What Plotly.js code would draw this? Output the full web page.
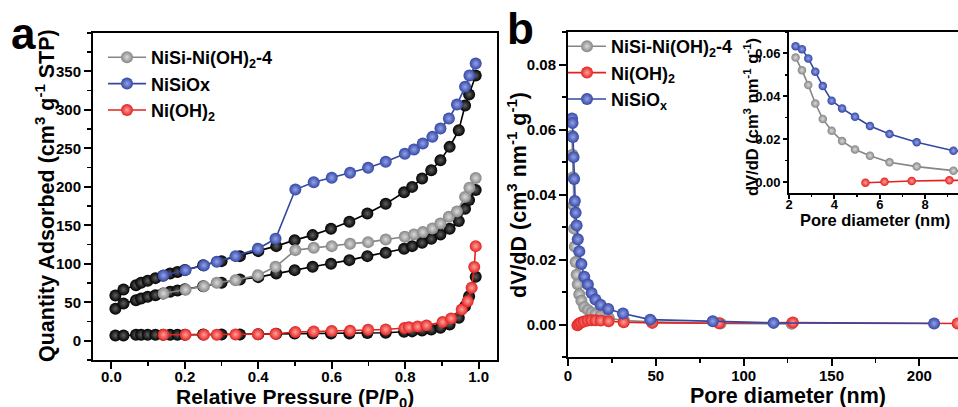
<!DOCTYPE html>
<html>
<head>
<meta charset="utf-8">
<script src="https://cdn.plot.ly/plotly-3.0.1.min.js"></script>
<style>
html,body{margin:0;padding:0;background:#fff;overflow:hidden;}
#chart{width:958px;height:407px;}
</style>
</head>
<body>
<div id="chart"></div>
<script>
// ---------- Panel a: N2 isotherms ----------
const adsP = [0.011,0.033,0.067,0.081,0.099,0.120,0.141,0.160,0.180,0.200,0.250,0.300,0.350,0.400,0.449,0.499,0.548,0.598,0.648,0.697,0.747,0.797,0.819,0.846,0.871,0.896,0.921,0.946,0.963,0.974,0.992];
const adsNiSiOx = [58.9,66.7,72.3,75.4,78,81.4,84.5,87.5,89.5,92,98,103.5,110,116.5,123,130.8,137.3,145.5,154.6,165.4,178,193,200,211,221.7,234.7,252,273.7,305.8,320,344.7];
const adsNiSiNiOH = [41.6,48.5,52.8,55,57.2,59.3,61.5,63.7,65.4,67,71,75.4,79.7,82.7,87.5,91.8,96.1,100,104.8,110,114.3,119.5,123,127.3,132.5,138.2,145.5,155.5,171.5,182.8,195.8];
const adsNiOH = [6.9,6.9,7.8,7.8,7.8,7.8,7.8,7.8,7.8,7.8,8,8.2,8.2,8.5,9,9.5,9.5,9.5,9.5,10,10.5,11.7,12.2,13.4,14.7,16.9,21.2,29.9,45,58,83.2];

const desP = [0.142,0.202,0.252,0.287,0.338,0.399,0.447,0.501,0.551,0.600,0.650,0.699,0.747,0.799,0.824,0.848,0.874,0.896,0.919,0.941,0.963,0.975,0.992];
const desNiSiOx = [84.9,91.8,97.9,102.6,110,119.5,132.5,196.6,206,211.8,218.3,224.8,232.6,243,248.6,256.4,265,275.9,288.9,307,330,344.7,360.3];
const desNiSiNiOH = [61.5,66.3,71,75.4,78.8,85.3,96.1,117.8,120.8,123,126,128.2,131.7,135.1,138.2,141.2,146,152.4,161.1,168,187,199,211.5];
const desPNiOH = [0.142,0.202,0.252,0.287,0.338,0.399,0.447,0.501,0.551,0.600,0.650,0.699,0.747,0.798,0.810,0.834,0.858,0.902,0.925,0.954,0.970,0.981,0.988,0.992];
const desNiOH = [7.8,7.8,7.8,7.8,8.2,8.5,9.1,11.3,12.1,12.6,13,14.3,14.7,16.5,17.5,18.5,20,24.5,29,40.7,51.5,68.9,96,123];

// ---------- Panel b: pore size distribution ----------
const poreNiSiOx = [2.29,2.57,2.85,3.16,3.49,3.88,4.34,4.91,5.57,6.43,7.63,9.25,11.3,13.4,15.6,18.5,22.9,31.3,46.8,82.4,117,208.4];
const dvNiSiOx = [0.0634,0.0620,0.0577,0.0515,0.0448,0.0380,0.0344,0.0305,0.0262,0.0225,0.0186,0.0147,0.0123,0.0097,0.0077,0.0061,0.0048,0.0034,0.0015,0.0010,0.0005,0.0003];
const poreNiSiNiOH = [2.29,2.57,2.85,3.16,3.49,3.88,4.34,4.91,5.57,6.43,7.63,9.25,11.3,13.4,15.6,18.5,23.3,31.9,47.7,86.8,127.3];
const dvNiSiNiOH = [0.0581,0.0522,0.0453,0.0367,0.0295,0.0240,0.0192,0.0153,0.0124,0.0093,0.0073,0.0054,0.0045,0.0037,0.0031,0.0026,0.0019,0.0012,0.0008,0.0003,0.0002];
const poreNiOH = [5.37,6.21,7.41,9.07,11.2,13.3,15.7,18.6,23.1,31.7,48,86,128,221.8];
const dvNiOH = [-0.0002,0.0002,0.0006,0.0009,0.0012,0.0013,0.0013,0.0012,0.0010,0.0007,0.0005,0.0004,0.0006,0.0003];

const tickA_x = [0,0.2,0.4,0.6,0.8,1.0];
const tickA_y = [0,50,100,150,200,250,300,350];
const tickB_x = [0,50,100,150,200];
const tickB_y = [0,0.02,0.04,0.06,0.08];
const tickI_x = [2,4,6,8];
const tickI_y = [0,0.02,0.04,0.06];

// ---------- styling ----------
const FONT = 'Liberation Sans, Arial, Helvetica, sans-serif';
const W = 958, H = 407;
const px = v => v / W;
const py = v => 1 - v / H;

const C = {
  black: {c:'#000000', g:'#606060'},
  grey:  {c:'#858585', g:'#dadada'},
  blue:  {c:'#3447a3', g:'#93a2e8'},
  red:   {c:'#e3211f', g:'#ffa09c'}
};

function tr(x, y, col, name, xa, ya, size, legend, show) {
  return {
    type:'scatter', mode:'lines+markers', x:x, y:y, name:name,
    xaxis:xa, yaxis:ya, legend:legend, showlegend:show,
    line:{color:col.c, width:1.6},
    marker:{color:col.c, size:size, gradient:{type:'radial', color:col.g}},
    hoverinfo:'skip'
  };
}

const data = [
  tr(adsP, adsNiSiOx, C.black, 'ads1', 'x', 'y', 12, 'legend', false),
  tr(adsP, adsNiSiNiOH, C.black, 'ads2', 'x', 'y', 12, 'legend', false),
  tr(adsP, adsNiOH, C.black, 'ads3', 'x', 'y', 12, 'legend', false),
  tr(desP, desNiSiNiOH, C.grey, 'NiSi-Ni(OH)<sub>2</sub>-4', 'x', 'y', 12, 'legend', true),
  tr(desP, desNiSiOx, C.blue, 'NiSiOx', 'x', 'y', 12, 'legend', true),
  tr(desPNiOH, desNiOH, C.red, 'Ni(OH)<sub>2</sub>', 'x', 'y', 12, 'legend', true),

  tr(poreNiSiNiOH, dvNiSiNiOH, C.grey, 'NiSi-Ni(OH)<sub>2</sub>-4', 'x2', 'y2', 12, 'legend2', true),
  tr(poreNiOH, dvNiOH, C.red, 'Ni(OH)<sub>2</sub>', 'x2', 'y2', 12, 'legend2', true),
  tr(poreNiSiOx, dvNiSiOx, C.blue, 'NiSiO<sub>x</sub>', 'x2', 'y2', 12, 'legend2', true),

  tr(poreNiSiNiOH, dvNiSiNiOH, C.grey, 'i1', 'x3', 'y3', 8.5, 'legend', false),
  tr(poreNiOH, dvNiOH, C.red, 'i2', 'x3', 'y3', 8.5, 'legend', false),
  tr(poreNiSiOx, dvNiSiOx, C.blue, 'i3', 'x3', 'y3', 8.5, 'legend', false)
];

function ax(opts) {
  return Object.assign({
    showline:true, linewidth:2, linecolor:'#000', ticks:'outside', ticklen:7, tickwidth:2,
    tickcolor:'#000', showgrid:false, zeroline:false, fixedrange:true,
    tickfont:{family:FONT, size:15, color:'#000', weight:'bold'}
  }, opts);
}

const layout = {
  width:W, height:H, margin:{l:0, r:0, t:0, b:0},
  paper_bgcolor:'#fff', plot_bgcolor:'rgba(0,0,0,0)',
  showlegend:true,
  xaxis: ax({domain:[px(93), px(497)], range:[-0.05,1.05], tickvals:tickA_x, ticktext:tickA_x.map(v=>v.toFixed(1)), mirror:true, anchor:'y',
    ticklabelstandoff:-5,
    minor:{ticks:'outside', ticklen:4, tickwidth:1.5, tickcolor:'#000', dtick:0.1, tick0:0}}),
  yaxis: ax({domain:[py(360), py(33)], range:[-25,400], tickvals:tickA_y, mirror:true, anchor:'x',
    minor:{ticks:'outside', ticklen:4, tickwidth:1.5, tickcolor:'#000', dtick:25, tick0:0}}),
  xaxis2: ax({domain:[px(568), 1], range:[0,222], tickvals:tickB_x, mirror:true, anchor:'y2',
    ticklabelstandoff:-3,
    minor:{ticks:'outside', ticklen:4, tickwidth:1.5, tickcolor:'#000', dtick:25, tick0:0}}),
  yaxis2: ax({domain:[py(357), py(32)], range:[-0.01,0.09], tickvals:tickB_y, ticktext:tickB_y.map(v=>v.toFixed(2)), mirror:false, anchor:'x2',
    minor:{ticks:'outside', ticklen:4, tickwidth:1.5, tickcolor:'#000', dtick:0.01, tick0:0}}),
  xaxis3: ax({domain:[px(789), 1], range:[2,9.45], tickvals:tickI_x, mirror:true, anchor:'y3', ticklen:4, linewidth:1.8,
    ticklabelstandoff:-5,
    tickfont:{family:FONT, size:13, color:'#000', weight:'bold'},
    minor:{ticks:'outside', ticklen:2, tickwidth:1.2, tickcolor:'#000', dtick:1, tick0:0}}),
  yaxis3: ax({domain:[py(193), py(32)], range:[-0.005,0.07], tickvals:tickI_y, ticktext:tickI_y.map(v=>v.toFixed(2)), mirror:false, anchor:'x3', ticklen:4, linewidth:1.8,
    tickfont:{family:FONT, size:13, color:'#000', weight:'bold'},
    minor:{ticks:'outside', ticklen:2, tickwidth:1.2, tickcolor:'#000', dtick:0.01, tick0:0}}),
  legend: {x:px(103), y:py(39), xanchor:'left', yanchor:'top', bgcolor:'rgba(0,0,0,0)', itemwidth:38,
    font:{family:FONT, size:18, color:'#000', weight:'bold'}, tracegroupgap:0, itemclick:false, itemdoubleclick:false},
  legend2: {x:px(563), y:py(28), xanchor:'left', yanchor:'top', bgcolor:'rgba(0,0,0,0)', itemwidth:38,
    font:{family:FONT, size:18, color:'#000', weight:'bold'}, tracegroupgap:0, itemclick:false, itemdoubleclick:false},
  annotations: [
    {text:'a', xref:'paper', yref:'paper', x:px(23), y:py(33), xanchor:'center', yanchor:'middle', showarrow:false,
      font:{family:FONT, size:44, color:'#000', weight:'bold'}},
    {text:'b', xref:'paper', yref:'paper', x:px(520), y:py(29), xanchor:'center', yanchor:'middle', showarrow:false,
      font:{family:FONT, size:44, color:'#000', weight:'bold'}},
    {text:'Quantity Adsorbed (cm<sup>3</sup> g<sup>-1</sup> STP)', xref:'paper', yref:'paper', x:px(45), y:py(196), textangle:-90,
      xanchor:'center', yanchor:'middle', showarrow:false, font:{family:FONT, size:21.5, color:'#000', weight:'bold'}},
    {text:'Relative Pressure (P/P<sub>0</sub>)', xref:'paper', yref:'paper', x:px(295), y:py(397.5),
      xanchor:'center', yanchor:'middle', showarrow:false, font:{family:FONT, size:21, color:'#000', weight:'bold'}},
    {text:'dV/dD (cm<sup>3</sup> nm<sup>-1</sup> g<sup>-1</sup>)', xref:'paper', yref:'paper', x:px(517), y:py(195), textangle:-90,
      xanchor:'center', yanchor:'middle', showarrow:false, font:{family:FONT, size:21.5, color:'#000', weight:'bold'}},
    {text:'Pore diameter (nm)', xref:'paper', yref:'paper', x:px(788), y:py(396),
      xanchor:'center', yanchor:'middle', showarrow:false, font:{family:FONT, size:21.5, color:'#000', weight:'bold'}},
    {text:'Pore diameter (nm)', xref:'paper', yref:'paper', x:px(875), y:py(220),
      xanchor:'center', yanchor:'middle', showarrow:false, font:{family:FONT, size:16.5, color:'#000', weight:'bold'}},
    {text:'dV/dD (cm<sup>3</sup> nm<sup>-1</sup> g<sup>-1</sup>)', xref:'paper', yref:'paper', x:px(751), y:py(117), textangle:-90,
      xanchor:'center', yanchor:'middle', showarrow:false, font:{family:FONT, size:16.5, color:'#000', weight:'bold'}}
  ]
};

Plotly.newPlot('chart', data, layout, {staticPlot:true, displayModeBar:false});
</script>
</body>
</html>
